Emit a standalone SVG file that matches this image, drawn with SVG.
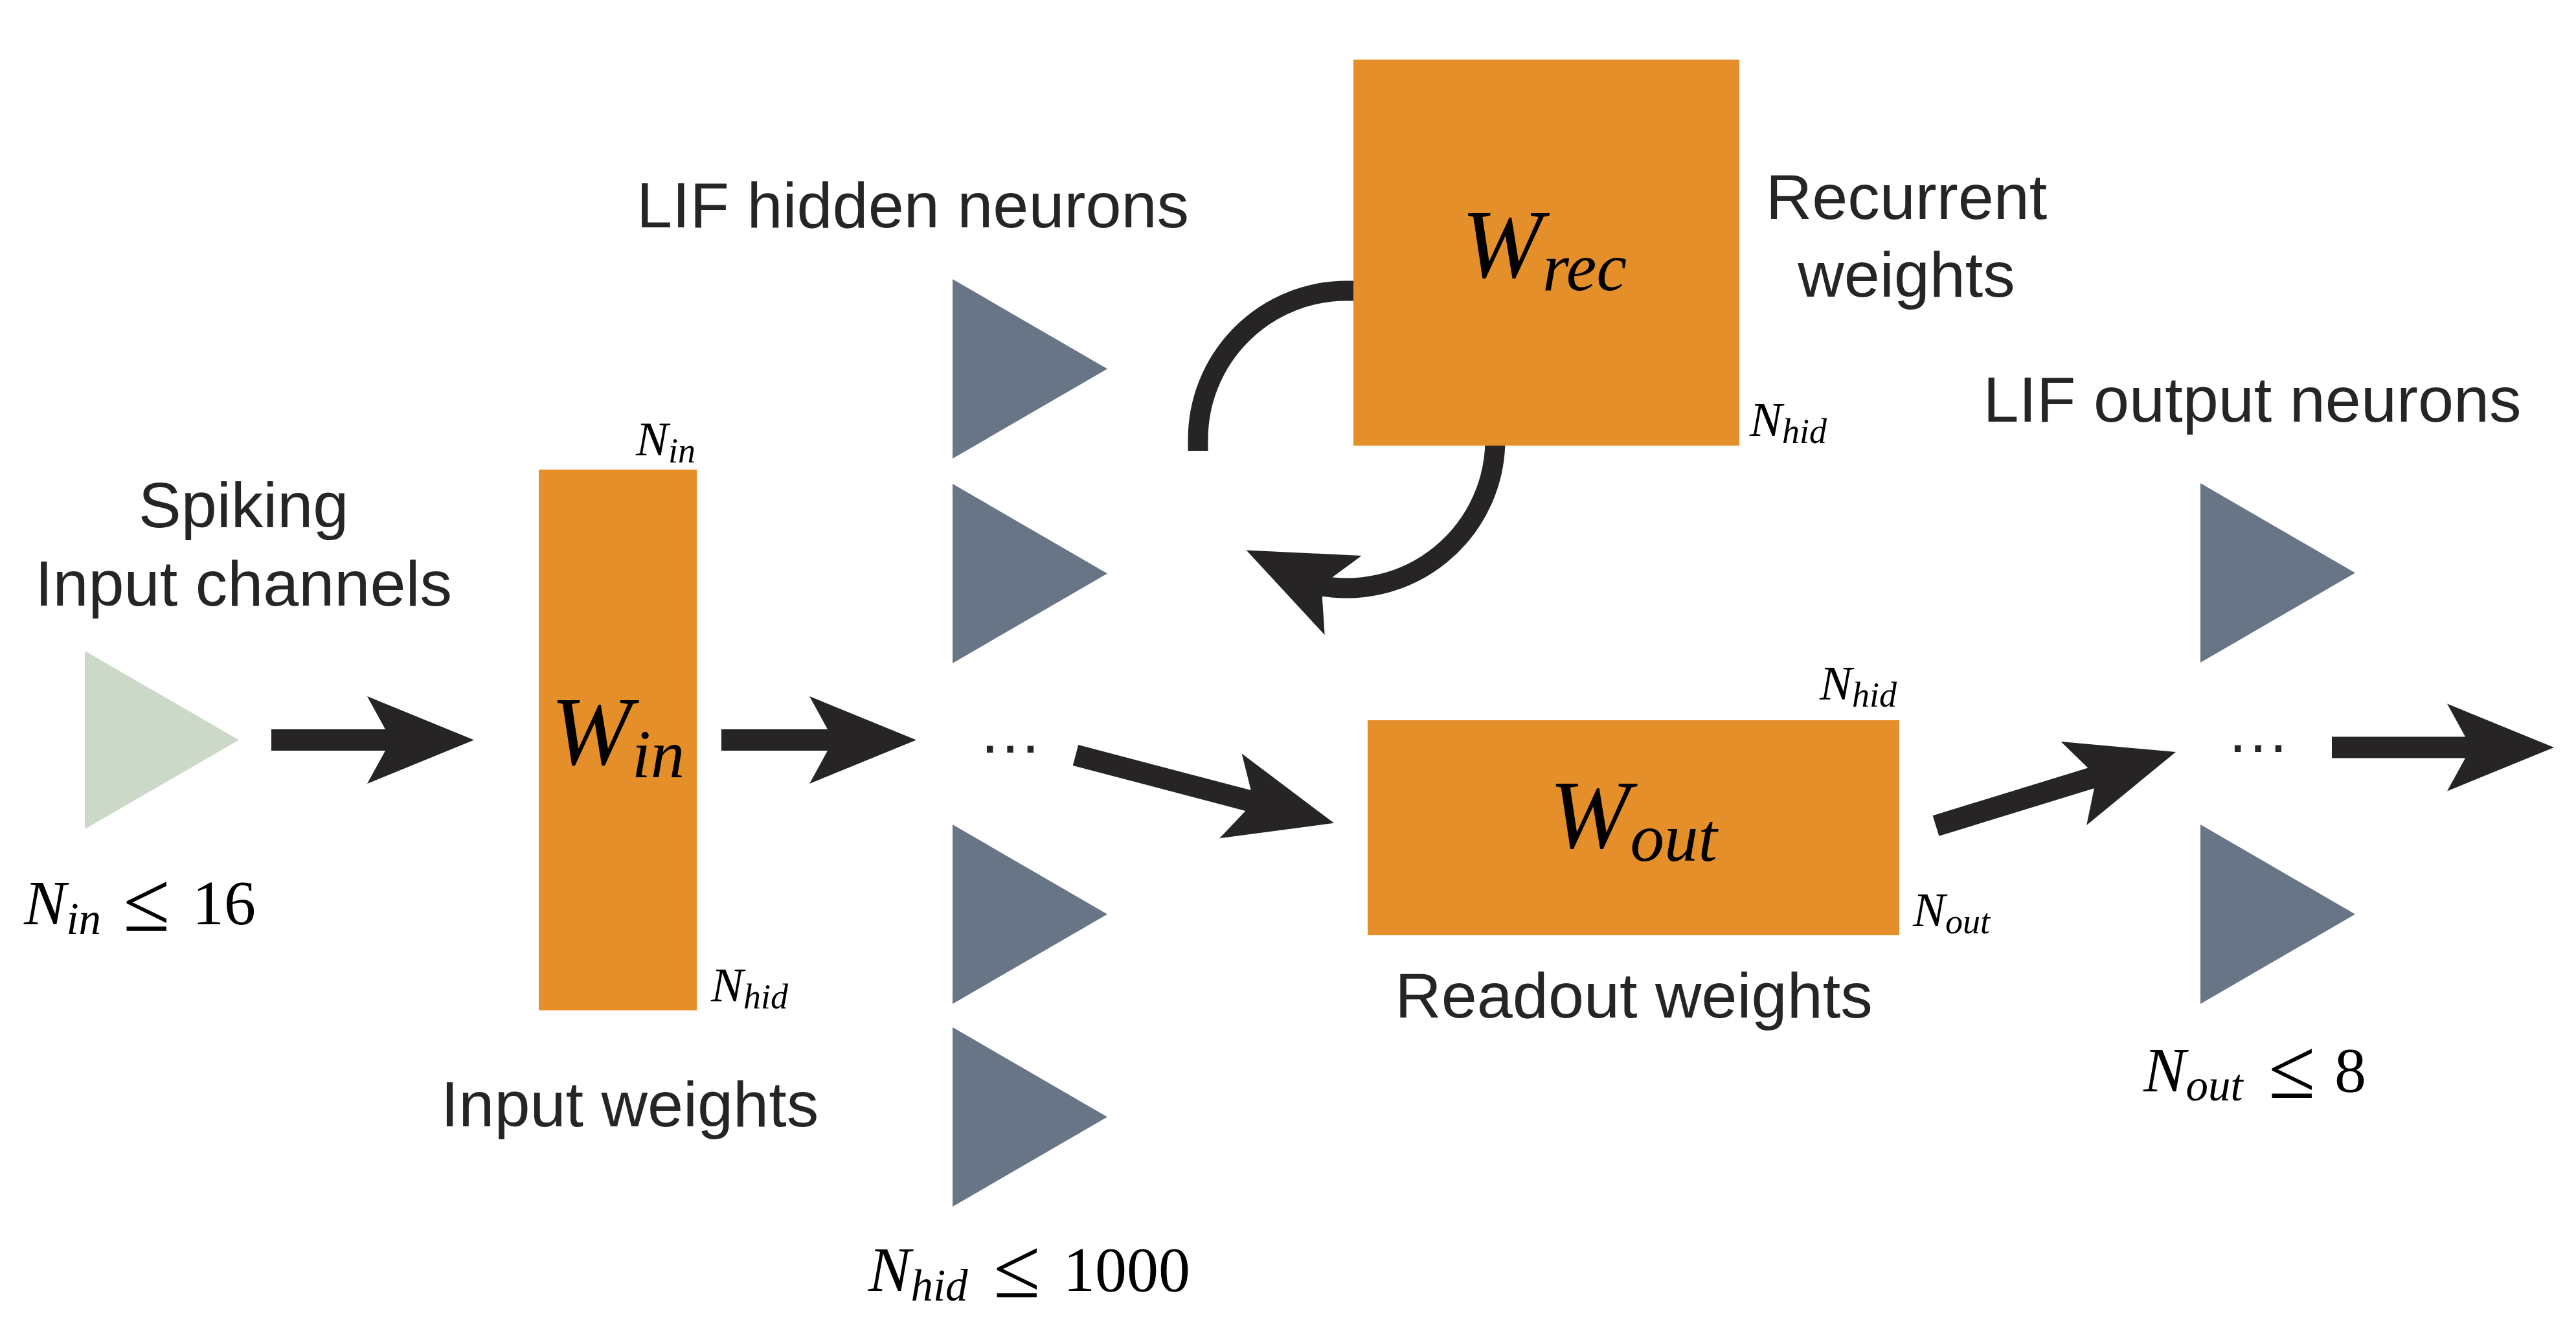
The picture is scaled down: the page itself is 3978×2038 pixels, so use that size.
<svg xmlns="http://www.w3.org/2000/svg" xmlns:xlink="http://www.w3.org/1999/xlink" width="3978" height="2038" viewBox="0 0 3978 2038">
<style>
.bg{fill:#ffffff}
.mat{fill:#E48F2A}
.hid{fill:#687586}
.inp{fill:#CCD9C8}
.conn{fill:none;stroke:#262425;stroke-width:33;stroke-linecap:butt}
.loop{fill:none;stroke:#262425;stroke-width:31;stroke-linecap:butt}
.head{fill:#262425}
.lbl{font-family:"Liberation Sans",Arial,Helvetica,sans-serif;font-size:99px;fill:#262425}
.math{font-family:"Liberation Serif","Times New Roman",serif;fill:#000000}
.it{font-style:italic}
.le{font-size:132px}
</style>
<defs>
<path id="headshape" class="head" d="M-2,-16.5 L-30,-67.5 L135,0 L-30,67.5 L-2,16.5 Z"/>
<marker id="ah" markerUnits="userSpaceOnUse" viewBox="-40 -70 180 140" markerWidth="180" markerHeight="140" refX="0" refY="0" orient="auto" overflow="visible">
<use href="#headshape" xlink:href="#headshape"/>
</marker>
<path id="tri" d="M0,0 L239,138.5 L0,277 Z"/>
</defs>
<rect class="bg" x="0" y="0" width="3978" height="2038"/>

<g id="connectors">
<path class="conn" d="M419,1142.5 L597,1142.5" marker-end="url(#ah)"/>
<path class="conn" d="M1114,1142.5 L1280,1142.5" marker-end="url(#ah)"/>
<path class="conn" d="M1661,1166 L1929.5,1236.5" marker-end="url(#ah)"/>
<path class="conn" d="M2989.5,1275 L3231,1200.7" marker-end="url(#ah)"/>
<path class="conn" d="M3601,1154 L3809,1154" marker-end="url(#ah)"/>
<path class="loop" d="M2100,449 L2079.5,449 A229.5,229.5 0 0 0 1850,678.5 L1850,696"/>
<path class="loop" d="M2309,670 L2309,678.5 A229.5,229.5 0 0 1 2035.7,903.8"/>
<use href="#headshape" xlink:href="#headshape" transform="translate(2047,906.5) rotate(205)"/>
</g>

<g id="input-neurons">
<use href="#tri" xlink:href="#tri" class="inp" transform="translate(131,1005) scale(0.996,0.993)"/>
<text class="lbl" x="376" y="814" text-anchor="middle">Spiking</text>
<text class="lbl" x="376" y="935" text-anchor="middle">Input channels</text>
<text class="math" x="37" y="1427" font-size="98"><tspan class="it">N</tspan><tspan class="it" font-size="69" dy="15">in</tspan><tspan class="le" x="190" y="1437">≤</tspan><tspan x="297" y="1427">16</tspan></text>
</g>

<g id="w-in">
<rect class="mat" x="832" y="725" width="244" height="835"/>
<text class="math" x="954" y="1180" font-size="150" text-anchor="middle"><tspan class="it">W</tspan><tspan class="it" font-size="105" dy="20">in</tspan></text>
<text class="math" x="982" y="702.5" font-size="75"><tspan class="it">N</tspan><tspan class="it" font-size="54" dy="11">in</tspan></text>
<text class="math" x="1098" y="1546" font-size="75"><tspan class="it">N</tspan><tspan class="it" font-size="54" dy="11">hid</tspan></text>
<text class="lbl" x="972.5" y="1739" text-anchor="middle">Input weights</text>
</g>

<g id="hidden-neurons">
<text class="lbl" x="1409.5" y="351" text-anchor="middle">LIF hidden neurons</text>
<use href="#tri" xlink:href="#tri" class="hid" transform="translate(1471,431)"/>
<use href="#tri" xlink:href="#tri" class="hid" transform="translate(1471,747)"/>
<text class="lbl" x="1560" y="1162" text-anchor="middle" font-size="100">…</text>
<use href="#tri" xlink:href="#tri" class="hid" transform="translate(1471,1273)"/>
<use href="#tri" xlink:href="#tri" class="hid" transform="translate(1471,1586)"/>
<text class="math" x="1341" y="1993" font-size="98"><tspan class="it">N</tspan><tspan class="it" font-size="69" dy="15">hid</tspan><tspan class="le" x="1534" y="2003">≤</tspan><tspan x="1642" y="1993">1000</tspan></text>
</g>

<g id="w-rec">
<rect class="mat" x="2090" y="92" width="596" height="596"/>
<text class="math" x="2384.5" y="428" font-size="150" text-anchor="middle"><tspan class="it">W</tspan><tspan class="it" font-size="105" dy="20">rec</tspan></text>
<text class="math" x="2702" y="673" font-size="75"><tspan class="it">N</tspan><tspan class="it" font-size="54" dy="11">hid</tspan></text>
<text class="lbl" x="2944" y="337.5" text-anchor="middle">Recurrent</text>
<text class="lbl" x="2944" y="457.5" text-anchor="middle">weights</text>
</g>

<g id="w-out">
<rect class="mat" x="2112" y="1112" width="821" height="332"/>
<text class="math" x="2522" y="1309" font-size="150" text-anchor="middle"><tspan class="it">W</tspan><tspan class="it" font-size="105" dy="20">out</tspan></text>
<text class="math" x="2810" y="1080" font-size="75"><tspan class="it">N</tspan><tspan class="it" font-size="54" dy="11">hid</tspan></text>
<text class="math" x="2954" y="1430" font-size="75"><tspan class="it">N</tspan><tspan class="it" font-size="54" dy="11">out</tspan></text>
<text class="lbl" x="2523" y="1571" text-anchor="middle">Readout weights</text>
</g>

<g id="output-neurons">
<text class="lbl" x="3478" y="651" text-anchor="middle">LIF output neurons</text>
<use href="#tri" xlink:href="#tri" class="hid" transform="translate(3398,746)"/>
<text class="lbl" x="3487" y="1161" text-anchor="middle" font-size="100">…</text>
<use href="#tri" xlink:href="#tri" class="hid" transform="translate(3398,1273)"/>
<text class="math" x="3310" y="1685" font-size="98"><tspan class="it">N</tspan><tspan class="it" font-size="69" dy="14">out</tspan><tspan class="le" x="3503" y="1695">≤</tspan><tspan x="3605" y="1685">8</tspan></text>
</g>
</svg>
